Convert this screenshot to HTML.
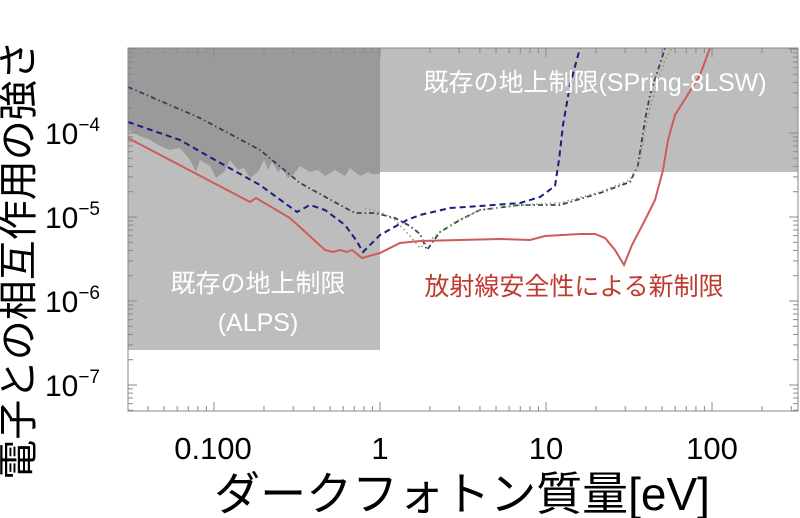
<!DOCTYPE html>
<html><head><meta charset="utf-8"><style>
html,body{margin:0;padding:0;background:#fff;width:800px;height:518px;overflow:hidden}
svg{display:block}
text{font-family:"Liberation Sans","Noto Sans CJK JP",sans-serif}
</style></head><body>
<svg id="s" width="800" height="518" viewBox="0 0 800 518" xmlns="http://www.w3.org/2000/svg">
<rect x="128" y="48" width="252" height="302" fill="#bdbdbd"/>
<rect x="380" y="48" width="418" height="124" fill="#bdbdbd"/>
<polygon fill="#9a9a9a" points="128,48 380,48 380,174 372,174 368,172 360,176 350,168 345,176 335,170 325,176 318,170 310,172 300,166 292,176 288,178 282,168 278,172 272,162 268,170 264,160 258,172 250,178 244,168 238,170 230,160 224,172 216,178 210,166 200,160 196,172 190,160 180,148 170,150 160,146 150,140 140,136 128,130"/>
<polyline fill="none" stroke="#3b3b5e" stroke-width="1.8" stroke-dasharray="5,3,1.5,3" points="128,87 200,118 260,150 300,183 340,205 355,213 375,213 395,218 410,226 420,234 427,250 440,232 460,220 480,210 520,205 560,205 600,193 630,182 638,165 645,120 650,95 658,70 665,48"/>
<polyline fill="none" stroke="#7ab04a" stroke-width="1.6" stroke-dasharray="1.5,3" points="365,208 380,212 395,220 410,236 420,248 435,236 455,222 480,210 520,205 560,203 600,192 630,180 640,160 647,120 655,90 665,60 672,48"/>
<polyline fill="none" stroke="#1c1c80" stroke-width="2" stroke-dasharray="6,4" points="128,122 180,140 215,160 260,185 297,212 310,205 325,210 345,225 356,240 363,252 380,235 407,220 420,215 450,208 480,206 520,203 540,197 555,186 559,160 563,125 570,85 580,48"/>
<polyline fill="none" stroke="#d05a5a" stroke-width="2" points="128,138 250,202 256,198 290,218 325,250 333,252 340,250 347,252 352,250 362,258 380,253 400,243 420,241 460,240 500,239 530,240 545,236 580,234 595,234 605,238 615,250 624,265 632,245 645,220 655,200 663,170 668,140 675,115 700,75 710,48"/>
<rect x="128" y="48" width="670" height="363" fill="none" stroke="#888" stroke-width="1"/>
<g id="ticks" stroke="#888" stroke-width="1"></g>
<text x="595" y="91" font-size="25" fill="#fff" text-anchor="middle">既存の地上制限(SPring-8LSW)</text>
<text x="258" y="292" font-size="25" fill="#fff" text-anchor="middle">既存の地上制限</text>
<text x="258" y="331" font-size="25" fill="#fff" text-anchor="middle">(ALPS)</text>
<text x="574" y="295" font-size="25" fill="#c03a30" text-anchor="middle">放射線安全性による新制限</text>
<g font-size="31" fill="#000" text-anchor="middle">
<text x="213" y="459">0.100</text>
<text x="380" y="459">1</text>
<text x="546" y="459">10</text>
<text x="712" y="459">100</text>
</g>
<g font-size="30" fill="#000" text-anchor="end">
<text x="100" y="144">10<tspan font-size="19" dy="-13">−4</tspan></text>
<text x="100" y="228">10<tspan font-size="19" dy="-13">−5</tspan></text>
<text x="100" y="312">10<tspan font-size="19" dy="-13">−6</tspan></text>
<text x="100" y="396">10<tspan font-size="19" dy="-13">−7</tspan></text>
</g>
<text x="462" y="510" font-size="46" fill="#000" text-anchor="middle">ダークフォトン質量[eV]</text>
<text transform="translate(32,260) rotate(-90)" font-size="40" fill="#000" text-anchor="middle">電子との相互作用の強さ</text>
</svg>
<script>
var g=document.getElementById('ticks'),s='';
function X(m){return 380+166*Math.log10(m);}
function Y(v){return 133-84*(Math.log10(v)+4);}
for(var e=-2;e<=2;e++)for(var k=1;k<10;k++){var x=X(k*Math.pow(10,e));if(x<128||x>798)continue;var L=k==1?9:5;
s+='<line x1="'+x+'" y1="411" x2="'+x+'" y2="'+(411-L)+'"/><line x1="'+x+'" y1="48" x2="'+x+'" y2="'+(48+L)+'"/>';}
for(var e=-8;e<=-3;e++)for(var k=1;k<10;k++){var y=Y(k*Math.pow(10,e));if(y<48||y>411)continue;var L=k==1?9:5;
s+='<line x1="128" y1="'+y+'" x2="'+(128+L)+'" y2="'+y+'"/><line x1="798" y1="'+y+'" x2="'+(798-L)+'" y2="'+y+'"/>';}
g.innerHTML=s;
</script>
</body></html>
